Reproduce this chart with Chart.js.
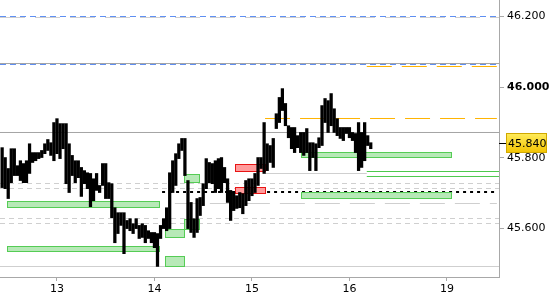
<!DOCTYPE html>
<html>
<head>
<meta charset="utf-8">
<script src="https://cdn.jsdelivr.net/npm/chart.js@4.4.1/dist/chart.umd.min.js"></script>
<style>
  html, body { margin: 0; padding: 0; background: #fff; }
  #wrap { width: 550px; height: 300px; }
</style>
</head>
<body>
<div id="wrap"><canvas id="chart"></canvas></div>
<script>
// 45-min bars, x = slot (32 per day), slot 0 = start of day 13
const firstSlot = -18;

const barHigh = [
  45.829, 45.801, 45.770, 45.826, 45.826, 45.778, 45.792, 45.784, 45.792, 45.840,
  45.815, 45.815, 45.815, 45.821, 45.840, 45.852, 45.843, 45.900, 45.911, 45.897,
  45.897, 45.897, 45.840, 45.807, 45.792, 45.792, 45.773, 45.764, 45.758, 45.756,
  45.741, 45.756, 45.722, 45.784, 45.784, 45.730, 45.727, 45.659, 45.645, 45.645,
  45.645, 45.623, 45.628, 45.614, 45.628, 45.609, 45.614, 45.609, 45.594, 45.589,
  45.589, 45.586, 45.609, 45.628, 45.659, 45.758, 45.792, 45.812, 45.840, 45.855,
  45.855, 45.736, 45.674, 45.628, 45.685, 45.688, 45.727, 45.798, 45.787, 45.784,
  45.792, 45.798, 45.801, 45.773, 45.741, 45.708, 45.702, 45.693, 45.702, 45.699,
  45.736, 45.741, 45.741, 45.756, 45.801, 45.801, 45.900, 45.840, 45.835, 45.855,
  45.925, 45.971, 45.996, 45.954, 45.891, 45.886, 45.886, 45.863, 45.872, 45.872,
  45.883, 45.843, 45.843, 45.840, 45.857, 45.948, 45.968, 45.962, 45.982, 45.939,
  45.911, 45.886, 45.886, 45.886, 45.886, 45.872, 45.869, 45.900, 45.872, 45.900,
  45.863, 45.843
];
const barLow = [
  45.716, 45.713, 45.685, 45.730, 45.750, 45.750, 45.736, 45.730, 45.730, 45.756,
  45.787, 45.792, 45.798, 45.801, 45.812, 45.821, 45.807, 45.792, 45.812, 45.798,
  45.826, 45.727, 45.702, 45.750, 45.730, 45.744, 45.691, 45.727, 45.713, 45.662,
  45.679, 45.708, 45.702, 45.722, 45.685, 45.685, 45.631, 45.560, 45.586, 45.609,
  45.529, 45.600, 45.594, 45.586, 45.600, 45.572, 45.575, 45.560, 45.572, 45.560,
  45.546, 45.493, 45.572, 45.600, 45.594, 45.600, 45.702, 45.722, 45.798, 45.821,
  45.750, 45.600, 45.589, 45.575, 45.589, 45.637, 45.665, 45.713, 45.730, 45.727,
  45.702, 45.713, 45.702, 45.730, 45.674, 45.623, 45.651, 45.657, 45.659, 45.642,
  45.665, 45.679, 45.693, 45.702, 45.722, 45.770, 45.756, 45.764, 45.787, 45.773,
  45.883, 45.900, 45.934, 45.891, 45.857, 45.826, 45.815, 45.829, 45.815, 45.807,
  45.815, 45.764, 45.801, 45.764, 45.829, 45.835, 45.900, 45.872, 45.891, 45.872,
  45.863, 45.855, 45.849, 45.869, 45.857, 45.849, 45.815, 45.764, 45.773, 45.792,
  45.835, 45.826
];

const dayTicks = [0, 32, 64, 96, 128];
const dayLabels = ['13', '14', '15', '16', '19'];
const priceTicks = [45.6, 45.8, 46.0, 46.2];
const lastPrice = 45.840;

// horizontal levels
const levelPrice = [46.1972, 46.2000, 46.0670, 46.0642, 46.0586, 45.9115, 45.8719, 45.7615, 45.7474,
                    45.7559, 45.7276, 45.7134, 45.7035, 45.6710, 45.6286, 45.6144, 45.4928];
const levelFrom  = [-18.7, -18.7, -18.7, -18.7, 101.7, 68.3, -18.7, 101.7, 101.7,
                    68.3, -18.7, -18.7, 34.5, 38.7, -18.7, -18.7, -18.7];
const levelTo    = [145.1, 145.1, 145.1, 145.1, 144.4, 144.4, 145.1, 145.1, 145.1,
                    101.7, 145.1, 145.1, 144.4, 144.4, 145.1, 145.1, 145.1];
const levelKind  = ['longDash', 'blue', 'gray', 'blue', 'orange', 'orange', 'gray', 'green', 'green',
                    'light', 'shortDash', 'shortDash', 'dots', 'longDash', 'shortDash', 'shortDash', 'light'];

// zones
const zoneFrom   = [-16.4, -16.4, 35.4, 35.4, 41.7, 41.7, 80.1, 80.1, 58.4, 58.4];
const zoneTo     = [33.5, 33.5, 41.7, 41.7, 46.6, 46.6, 129.3, 129.3, 68.3, 68.3];
const zoneTop    = [45.679, 45.551, 45.598, 45.522, 45.755, 45.626, 45.817, 45.703, 45.783, 45.717];
const zoneBottom = [45.660, 45.536, 45.575, 45.495, 45.731, 45.598, 45.802, 45.686, 45.762, 45.702];
const zoneKind   = ['green', 'green', 'green', 'green', 'green', 'green', 'green', 'green', 'red', 'red'];

const levelStyle = {
  blue:      { color: '#5f8ff2', width: 1, dash: [6, 4] },
  gray:      { color: '#a4a4a4', width: 1, dash: [] },
  light:     { color: '#cfcfcf', width: 1, dash: [] },
  longDash:  { color: '#cfcfcf', width: 1, dash: [25, 10] },
  shortDash: { color: '#cfcfcf', width: 1, dash: [5, 4] },
  orange:    { color: '#ffb400', width: 1, dash: [25, 10] },
  green:     { color: '#4cc94c', width: 1, dash: [] },
  dots:      { color: '#000000', width: 2, dash: [3, 4] }
};
const zoneStyle = {
  green: { fill: '#b7e9b7', stroke: '#55cc55' },
  red:   { fill: '#ff9c9c', stroke: '#e81414' }
};

const yMax = 46.24668, yMin = 45.46309;
const fontFamily = '"DejaVu Sans", Verdana, sans-serif';

const zonePlugin = {
  id: 'zones',
  beforeDatasetDraw(chart, args) {
    if (args.index !== 0) return;
    const { ctx, scales: { x, y } } = chart;
    ctx.save();
    zoneFrom.forEach((f, i) => {
      const x0 = Math.round(x.getPixelForValue(f)) + 0.5;
      const x1 = Math.round(x.getPixelForValue(zoneTo[i])) + 0.5;
      const y0 = Math.round(y.getPixelForValue(zoneTop[i])) + 0.5;
      const y1 = Math.round(y.getPixelForValue(zoneBottom[i])) + 0.5;
      const st = zoneStyle[zoneKind[i]];
      ctx.fillStyle = st.fill;
      ctx.strokeStyle = st.stroke;
      ctx.lineWidth = 1;
      ctx.fillRect(x0, y0, x1 - x0, y1 - y0);
      ctx.strokeRect(x0, y0, x1 - x0, y1 - y0);
    });
    ctx.restore();
  }
};

const pricePlugin = {
  id: 'lastPrice',
  afterDraw(chart) {
    const { ctx, scales: { y }, chartArea } = chart;
    const py = Math.round(y.getPixelForValue(lastPrice));
    const left = chartArea.right + 7;
    ctx.save();
    ctx.strokeStyle = '#000';
    ctx.lineWidth = 1;
    ctx.beginPath();
    ctx.moveTo(chartArea.right, py - 0.5);
    ctx.lineTo(left, py - 0.5);
    ctx.stroke();
    const g = ctx.createLinearGradient(0, py - 11, 0, py + 9);
    g.addColorStop(0, '#ffec5c');
    g.addColorStop(1, '#f3c300');
    ctx.fillStyle = g;
    ctx.fillRect(left, py - 11, 41, 20);
    ctx.strokeStyle = '#cfa800';
    ctx.strokeRect(left + 0.5, py - 10.5, 40, 19);
    ctx.fillStyle = '#000';
    ctx.font = '11px ' + fontFamily;
    ctx.textBaseline = 'middle';
    ctx.fillText(lastPrice.toFixed(3), left + 2, py);
    ctx.restore();
  }
};

const levelDatasets = levelPrice.map((p, i) => {
  const st = levelStyle[levelKind[i]];
  return {
    type: 'line',
    data: [{ x: levelFrom[i], y: p }, { x: levelTo[i], y: p }],
    borderColor: st.color,
    borderWidth: st.width,
    borderDash: st.dash,
    pointRadius: 0,
    fill: false,
    order: 1
  };
});

new Chart(document.getElementById('chart'), {
  type: 'bar',
  data: {
    datasets: [
      {
        type: 'bar',
        data: barHigh.map((h, i) => ({ x: firstSlot + i, y: [barLow[i], h] })),
        backgroundColor: '#000',
        barThickness: 2.6,
        order: 0
      },
      ...levelDatasets
    ]
  },
  options: {
    responsive: true,
    maintainAspectRatio: false,
    animation: false,
    devicePixelRatio: 1,
    layout: { padding: 0 },
    plugins: { legend: { display: false }, tooltip: { enabled: false } },
    scales: {
      x: {
        type: 'linear',
        min: -18.7,
        max: 145.1,
        offset: false,
        afterBuildTicks: s => { s.ticks = dayTicks.map(v => ({ value: v })); },
        afterFit: s => { s.height = 23; s.paddingLeft = 0; s.paddingRight = 0; },
        grid: { drawOnChartArea: false, drawTicks: true, tickLength: 4, color: '#a8a8a8', offset: false },
        border: { color: '#a8a8a8' },
        ticks: {
          callback: (v, i) => dayLabels[i],
          autoSkip: false,
          maxRotation: 0,
          padding: 2,
          color: '#000',
          font: { family: fontFamily, size: 11 }
        }
      },
      y: {
        type: 'linear',
        position: 'right',
        min: yMin,
        max: yMax,
        afterBuildTicks: s => { s.ticks = priceTicks.map(v => ({ value: v })); },
        afterFit: s => { s.width = 51; s.paddingTop = 0; s.paddingBottom = 0; },
        grid: { drawOnChartArea: false, drawTicks: true, tickLength: 5, color: '#a8a8a8' },
        border: { color: '#a8a8a8' },
        ticks: {
          callback: v => v.toFixed(3),
          padding: 3,
          color: '#000',
          font: ctx => ({ family: fontFamily, size: 11, weight: ctx.tick && ctx.tick.value === 46 ? 'bold' : 'normal' })
        }
      }
    }
  },
  plugins: [zonePlugin, pricePlugin]
});
</script>
</body>
</html>
